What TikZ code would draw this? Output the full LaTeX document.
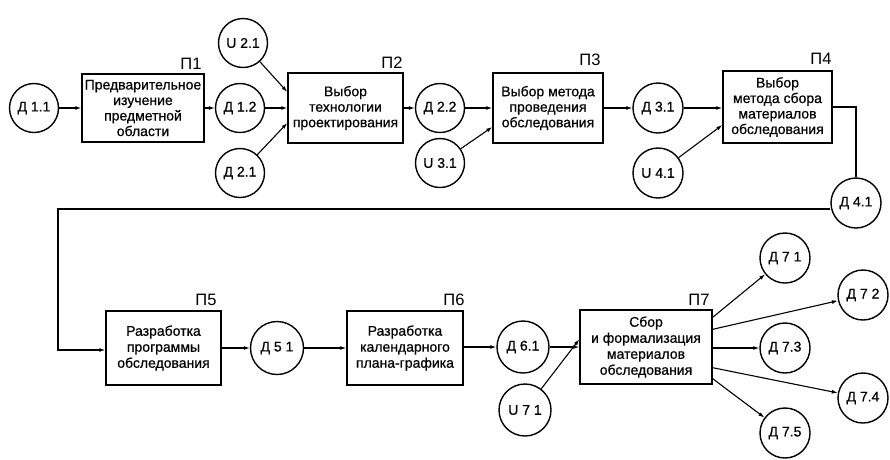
\documentclass[tikz,border=0pt]{standalone}
\usepackage{fontspec}
\setmainfont{Liberation Sans}
\newfontfamily\heavyfont[FakeBold=0.6]{Liberation Sans}
\usetikzlibrary{arrows.meta}
\begin{document}
\begin{tikzpicture}[x=1pt,y=-1pt,
  every node/.style={inner sep=0pt},
  proc/.style={draw,line width=1.4pt,rectangle,align=center,
    font=\heavyfont\fontsize{14}{15.5}\selectfont},
  proc2/.style={proc,font=\heavyfont\fontsize{14}{16}\selectfont},
  dat/.style={draw,line width=1.4pt,circle,minimum size=#1,
    font=\heavyfont\fontsize{14}{15}\selectfont},
  dat/.default=49pt,
  plabel/.style={anchor=south east,font=\fontsize{16.5}{18}\selectfont},
  conn/.style={line width=1.1pt,-{Latex[length=6pt,width=4pt]}},
  wire/.style={line width=1.1pt}]
\useasboundingbox (0,0) rectangle (890,459);

% boxes
\node[proc,minimum width=122pt,minimum height=68pt] (p1) at (143,108)
  {Предварительное\\изучение\\предметной\\области};
\node[proc,minimum width=115pt,minimum height=70pt] (p2) at (345.5,108)
  {Выбор\\технологии\\проектирования};
\node[proc,minimum width=110pt,minimum height=70pt] (p3) at (548,108)
  {Выбор метода\\проведения\\обследования};
\node[proc,minimum width=109pt,minimum height=72pt] (p4) at (777.5,107)
  {Выбор\\метода сбора\\материалов\\обследования};
\node[proc2,minimum width=115pt,minimum height=74pt] (p5) at (163.5,348)
  {Разработка\\программы\\обследования};
\node[proc2,minimum width=116pt,minimum height=74pt] (p6) at (405,348)
  {Разработка\\календарного\\плана-графика};
\node[proc2,minimum width=132pt,minimum height=74pt] (p7) at (646,347)
  {Сбор\\и формализация\\материалов\\обследования};

% labels
\node[plabel] (l1) at ([xshift=-3pt,yshift=4pt]p1.north east) {П1};
\node[plabel] (l2) at ([xshift=-1pt,yshift=4pt]p2.north east) {П2};
\node[plabel] (l3) at ([xshift=-3pt,yshift=6pt]p3.north east) {П3};
\node[plabel] (l4) at ([xshift=-1pt,yshift=6pt]p4.north east) {П4};
\node[plabel] (l5) at ([xshift=-5pt,yshift=4pt]p5.north east) {П5};
\node[plabel] (l6) at ([xshift=1pt,yshift=4pt]p6.north east) {П6};
\node[plabel] (l7) at ([xshift=-3pt,yshift=4pt]p7.north east) {П7};

% circles
\node[dat] (d11) at (34,108) {Д 1.1};
\node[dat] (d12) at (240,108) {Д 1.2};
\node[dat] (u21) at (243,43) {U 2.1};
\node[dat] (d21) at (240,173) {Д 2.1};
\node[dat] (d22) at (440,108) {Д 2.2};
\node[dat] (u31) at (440,163) {U 3.1};
\node[dat=50pt] (d31) at (658,108) {Д 3.1};
\node[dat=50pt] (u41) at (658,173) {U 4.1};
\node[dat=50pt] (d41) at (856,203) {Д 4.1};
\node[dat=53pt] (d51) at (277,348) {Д 5 1};
\node[dat=52pt] (d61) at (523,347) {Д 6.1};
\node[dat=52pt] (u71) at (525,410) {U 7 1};
\node[dat=50pt] (d71) at (785,258) {Д 7 1};
\node[dat=50pt] (d72) at (863,295) {Д 7 2};
\node[dat=50pt] (d73) at (785,348) {Д 7.3};
\node[dat=50pt] (d74) at (863,398) {Д 7.4};
\node[dat=50pt] (d75) at (785,433) {Д 7.5};

% top row connectors
\draw[conn] (d11) -- (p1.west |- d11);
\draw[conn] (p1.east |- d12) -- (d12);
\draw[conn] (u21) -- ([yshift=16pt]p2.west);
\draw[conn] (d12) -- (p2.west |- d12);
\draw[conn] (d21) -- ([yshift=-15pt]p2.west);
\draw[conn] (p2.east |- d22) -- (d22);
\draw[conn] (d22) -- (p3.west |- d22);
\draw[conn] (u31) -- ([yshift=-19pt]p3.west);
\draw[conn] (p3.east |- d31) -- (d31);
\draw[conn] (d31) -- (p4.west |- d31);
\draw[conn] (u41) -- ([yshift=-18pt]p4.west);

% P4 to D4.1
\coordinate (c41) at (856,107);
\draw[wire] (p4.east |- c41) -- (c41) -- (d41);
\coordinate (ca) at (58,209);
\coordinate (cb) at (58,350);
\draw[conn] (d41.west |- ca) -- (ca) -- (cb) -- (p5.west |- cb);

% bottom row connectors
\draw[conn] (p5.east |- d51) -- (d51);
\draw[conn] (d51) -- (p6.west |- d51);
\draw[conn] (p6.east |- d61) -- (d61);
\draw[conn] (d61) -- (p7.west |- d61);
\draw[conn] (u71) -- ([yshift=-30pt]p7.north west);

\draw[conn] ([yshift=-8pt]p7.north east) -- (d71);
\draw[conn] ([yshift=-20pt]p7.north east) -- (d72);
\draw[conn] (p7.east |- d73) -- (d73);
\draw[conn] ([yshift=17pt]p7.south east) -- (d74);
\draw[conn] ([yshift=6pt]p7.south east) -- (d75);
\end{tikzpicture}
\end{document}
